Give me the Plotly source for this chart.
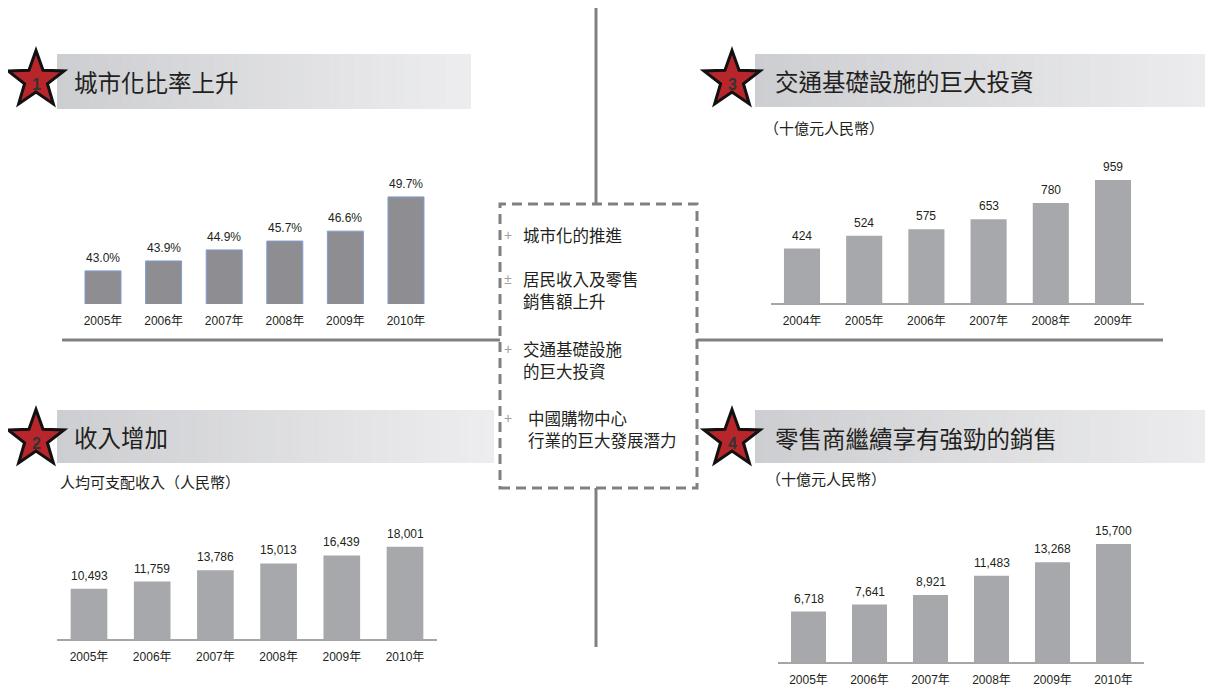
import math
import plotly.graph_objects as go

W, H = 1213, 689
OFF = 8  # page body margin compensation

# ---------------- data ----------------
urban_years = ["2005年", "2006年", "2007年", "2008年", "2009年", "2010年"]
urban_rate = [43.0, 43.9, 44.9, 45.7, 46.6, 49.7]
urban_labels = ["43.0%", "43.9%", "44.9%", "45.7%", "46.6%", "49.7%"]

income_years = ["2005年", "2006年", "2007年", "2008年", "2009年", "2010年"]
income_vals = [10493, 11759, 13786, 15013, 16439, 18001]

infra_years = ["2004年", "2005年", "2006年", "2007年", "2008年", "2009年"]
infra_vals = [424, 524, 575, 653, 780, 959]

retail_years = ["2005年", "2006年", "2007年", "2008年", "2009年", "2010年"]
retail_vals = [6718, 7641, 8921, 11483, 13268, 15700]

titles = ["城市化比率上升", "收入增加", "交通基礎設施的巨大投資", "零售商繼續享有強勁的銷售"]
subtitles = ["", "人均可支配收入（人民幣）", "（十億元人民幣）", "（十億元人民幣）"]
box_lines = [["城市化的推進"], ["居民收入及零售", "銷售額上升"], ["交通基礎設施", "的巨大投資"],
             ["中國購物中心", "行業的巨大發展潛力"]]
box_bullets = ["+", "±", "+", "+"]

FONT = "Liberation Sans, Arial, Noto Sans CJK TC, sans-serif"
CJK = "Noto Sans CJK TC, sans-serif"


def px(x):
    return (x - OFF) / W


def py(y):
    return 1 - (y - OFF) / H


fig = go.Figure()

charts = [
    ("", urban_years, urban_rate, urban_labels, (72.7, 436.3), (304, 150), (40, 40 + 154 / 11.04),
     "#8e8d92", 0.406, False),
    ("2", income_years, income_vals, [f"{v:,}" for v in income_vals], (57.4, 436.6), (639, 500),
     (1500, 1500 + 139 / 0.005594), "#a7a8ab", 0.42, True),
    ("3", infra_years, infra_vals, [f"{v:,}" for v in infra_vals], (770.9, 1144.1), (303, 150),
     (0, 153 / 0.1283), "#a7a8ab", 0.42, True),
    ("4", retail_years, retail_vals, [f"{v:,}" for v in retail_vals], (778, 1144), (662, 520),
     (0, 142 / 0.007516), "#a7a8ab", 0.426, True),
]

layout_axes = {}
annotations = []
for i, (ax, cats, vals, labs, xd, yd, yr, col, gap, base) in enumerate(charts):
    xa = "x" + ax
    ya = "y" + ax
    line = dict(color="#7f9fd0", width=1) if i == 0 else dict(width=0)
    fig.add_trace(go.Bar(x=cats, y=vals, xaxis=xa, yaxis=ya, marker=dict(color=col, line=line),
                         width=1 - gap, showlegend=False, hoverinfo="x+y"))
    layout_axes["xaxis" + ax] = dict(domain=[px(xd[0]), px(xd[1])], anchor=ya, range=[-0.5, 5.5],
                                     showgrid=False, zeroline=False, showline=base,
                                     linecolor="#a6a6a6", linewidth=1.5,
                                     ticks="outside", ticklen=6, tickcolor="rgba(0,0,0,0)",
                                     tickfont=dict(family=FONT, size=12, color="#231f20"),
                                     fixedrange=True)
    layout_axes["yaxis" + ax] = dict(domain=[py(yd[0]), py(yd[1])], anchor=xa, range=list(yr),
                                     visible=False, fixedrange=True)
    for c, v, t in zip(cats, vals, labs):
        annotations.append(dict(x=c, y=v, xref=xa, yref=ya, text=t, showarrow=False,
                                yanchor="bottom", yshift=4,
                                font=dict(family=FONT, size=12, color="#231f20")))

shapes = []

# header bars with gradient (strips)
headers = [(57, 471, 54, 109), (57, 494, 410, 463), (755, 1222, 54, 107), (755, 1222, 410, 463)]
c0 = (205, 206, 209)
c1 = (237, 237, 239)
N = 50
for (x0, x1, y0, y1) in headers:
    for k in range(N):
        t = k / (N - 1)
        c = tuple(int(round(c0[j] + (c1[j] - c0[j]) * t)) for j in range(3))
        a = x0 + (x1 - x0) * k / N
        b = x0 + (x1 - x0) * (k + 1) / N + 0.6
        shapes.append(dict(type="rect", xref="paper", yref="paper", x0=px(a), x1=px(min(b, x1)),
                           y0=py(y1), y1=py(y0), line=dict(width=0),
                           fillcolor=f"rgb{c}", layer="below"))

# stars
stars = [(36, 80, "1"), (36, 439, "2"), (732, 80, "3"), (732, 439, "4")]
R, r = 29.5, 12.0
for (cx, cy, num) in stars:
    pts = []
    for k in range(10):
        ang = -math.pi / 2 + k * math.pi / 5
        rad = R if k % 2 == 0 else r
        pts.append((px(cx + rad * math.cos(ang)), py(cy + rad * math.sin(ang))))
    path = "M " + " L ".join(f"{a:.5f},{b:.5f}" for a, b in pts) + " Z"
    shapes.append(dict(type="path", xref="paper", yref="paper", path=path,
                       fillcolor="#b8262c", line=dict(color="#111111", width=3)))
    annotations.append(dict(x=px(cx), y=py(cy + 4), xref="paper", yref="paper", text=f"<b>{num}</b>",
                            showarrow=False, xanchor="center", yanchor="middle",
                            font=dict(family=FONT, size=16, color="#333333")))

# titles & subtitles
title_pos = [(72, 82), (72, 437), (773, 81), (773, 438)]
for t, (x, y) in zip(titles, title_pos):
    annotations.append(dict(x=px(x), y=py(y), xref="paper", yref="paper", text=t, showarrow=False,
                            xanchor="left", yanchor="middle",
                            font=dict(family=CJK, size=23.5, color="#231f20")))
sub_pos = [(0, 0), (58, 481), (762, 127), (764, 478)]
for t, (x, y) in zip(subtitles, sub_pos):
    if t:
        annotations.append(dict(x=px(x), y=py(y), xref="paper", yref="paper", text=t, showarrow=False,
                                xanchor="left", yanchor="middle",
                                font=dict(family=CJK, size=15, color="#231f20")))

# connector lines
gray = "#808080"
for (x0, y0, x1, y1) in [(596, 6, 596, 204), (596, 488, 596, 647), (62, 340, 500, 340),
                         (697, 340, 1163, 340)]:
    shapes.append(dict(type="line", xref="paper", yref="paper", x0=px(x0), y0=py(y0), x1=px(x1),
                       y1=py(y1), line=dict(color=gray, width=3)))

# dashed box
shapes.append(dict(type="rect", xref="paper", yref="paper", x0=px(500), x1=px(697), y0=py(488),
                   y1=py(204), line=dict(color=gray, width=3, dash="10px,6px"),
                   fillcolor="rgba(255,255,255,1)"))

# box text
first_y = [235, 279, 349, 418]
line_x = [521, 521, 521, 526]
for lines, y0, xb, bul in zip(box_lines, first_y, line_x, box_bullets):
    annotations.append(dict(x=px(508), y=py(y0), xref="paper", yref="paper", text=bul,
                            showarrow=False, xanchor="center", yanchor="middle",
                            font=dict(family=FONT, size=14, color="#a0a0a0")))
    for j, t in enumerate(lines):
        annotations.append(dict(x=px(xb), y=py(y0 + 22 * j), xref="paper", yref="paper", text=t,
                                showarrow=False, xanchor="left", yanchor="middle",
                                font=dict(family=CJK, size=16.5, color="#231f20")))

fig.update_layout(width=W, height=H, margin=dict(l=0, r=0, t=0, b=0), paper_bgcolor="white",
                  plot_bgcolor="rgba(0,0,0,0)", shapes=shapes, annotations=annotations,
                  **layout_axes)

fig.write_html("out.html")
